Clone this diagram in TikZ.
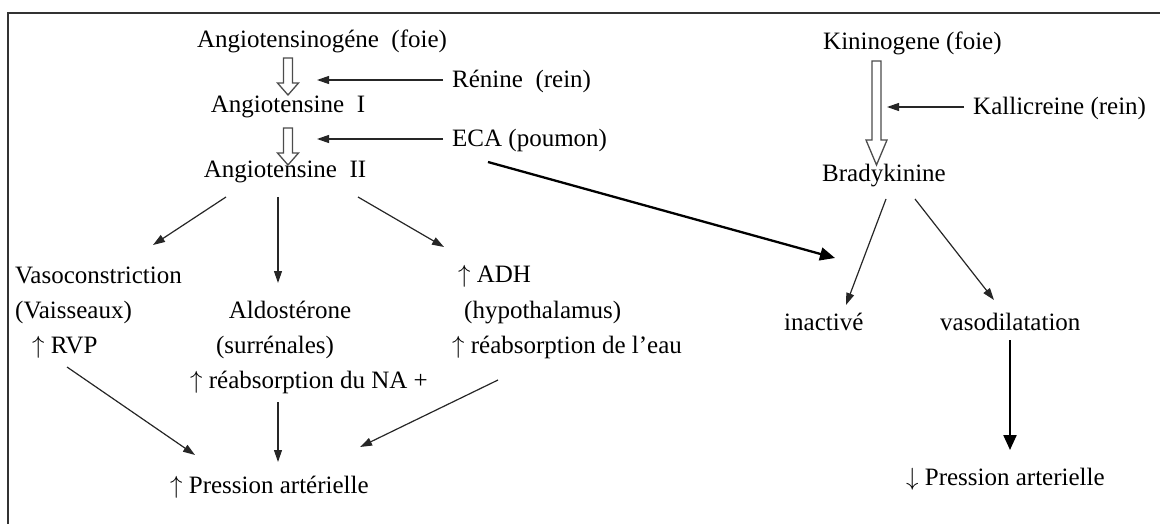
\documentclass[tikz,border=0pt]{standalone}
\usepackage{fontspec}
\setmainfont{Liberation Serif}
\usetikzlibrary{arrows.meta}
\newcommand{\upar}{\(\uparrow\)}
\newcommand{\dnar}{\(\downarrow\)}
\begin{document}
\begin{tikzpicture}[x=1pt,y=-1pt,
  every node/.style={inner sep=0pt, font=\fontsize{25}{29}\selectfont},
  ctr/.style={anchor=base},
  lft/.style={anchor=base west},
  tarr/.style={-{Triangle[length=12pt,width=8pt]}, line width=1.2pt, draw=black!85},
  barr/.style={-{Triangle[length=15pt,width=13pt]}, line width=2.3pt},
  hollow/.style={draw=black!70, line width=1.3pt, fill=white, line join=miter}]
\useasboundingbox (0,0) rectangle (1160,524);
\draw[line width=2pt, black!80] (8,524) -- (8,13) -- (1160,13);

% renin-angiotensin
\node[ctr] (ang0) at (322,48) {Angiotensinogéne\ \ (foie)};
\node[lft] (ren) at (452,88) {Rénine\ \ (rein)};
\node[ctr] (ang1) at (288,113) {Angiotensine\ \ I};
\node[lft] (eca) at (452,147) {ECA (poumon)};
\node[ctr] (ang2) at (285,178) {Angiotensine\ \ II};

\node[lft] (vaso) at (15,283) {Vasoconstriction};
\node[lft] (vais) at (15,318) {(Vaisseaux)};
\node[lft] (rvp) at (32,353) {\upar\ RVP};
\node[ctr] (ald) at (290,318) {Aldostérone};
\node[ctr] (sur) at (275,353) {(surrénales)};
\node[lft] (na) at (190,388) {\upar\ réabsorption du NA +};
\node[lft] (adh) at (458,282) {\upar\ ADH};
\node[lft] (hyp) at (464,318) {(hypothalamus)};
\node[lft] (eau) at (452,353) {\upar\ réabsorption de l’eau};
\node[lft] (pa) at (170,493) {\upar\ Pression artérielle};

% kinin
\node[lft] (kin) at (823,50) {Kininogene (foie)};
\node[lft] (kal) at (973,115) {Kallicreine (rein)};
\node[ctr] (bk) at (884,182) {Bradykinine};
\node[lft] (inact) at (784,330) {inactivé};
\node[lft] (vd) at (940,330) {vasodilatation};
\node[lft] (pa2) at (906,485) {\dnar\ Pression arterielle};

% hollow arrows
\coordinate (oa1) at ([shift={(-34,10)}]ang0.base);
\coordinate (oa2) at ([shift={(0,15)}]ang1.base);
\coordinate (oa3) at ([shift={(53.5,11)}]kin.base west);
\draw[hollow] (oa1) ++(-4.5,0) -- ++(0,25) -- ++(-6,0) -- ++(10.5,12) -- ++(10.5,-12) -- ++(-6,0) -- ++(0,-25) -- cycle;
\draw[hollow] (oa2) ++(-4.5,0) -- ++(0,25) -- ++(-6,0) -- ++(10.5,12) -- ++(10.5,-12) -- ++(-6,0) -- ++(0,-25) -- cycle;
\draw[hollow] (oa3) ++(-4.5,0) -- ++(0,79) -- ++(-6,0) -- ++(10.5,25) -- ++(10.5,-25) -- ++(-6,0) -- ++(0,-79) -- cycle;

% enzyme arrows
\draw[tarr] ([shift={(-9,-8)}]ren.base west) -- ([shift={(29,-33)}]ang1.base);
\draw[tarr] ([shift={(-9,-8)}]eca.base west) -- ([shift={(32,-39)}]ang2.base);
\draw[tarr] ([shift={(-9,-8)}]kal.base west) -- ([shift={(3,-75)}]bk.base);
\draw[barr] ([shift={(36,15)}]eca.base west) -- ([shift={(51,-72)}]inact.base west);

% angiotensin II effects
\draw[tarr] ([shift={(-59,19)}]ang2.base) -- ([shift={(138,-38)}]vaso.base west);
\draw[tarr] ([shift={(-7,19)}]ang2.base) -- ([shift={(-12,-35)}]ald.base);
\draw[tarr] ([shift={(73,19)}]ang2.base) -- ([shift={(-14,-35)}]adh.base west);
\draw[tarr] ([shift={(35,14)}]rvp.base west) -- ([shift={(25,-38)}]pa.base west);
\draw[tarr] ([shift={(88,14)}]na.base west) -- ([shift={(108,-31)}]pa.base west);
\draw[tarr] ([shift={(46,27)}]eau.base west) -- ([shift={(190,-46)}]pa.base west);

% bradykinin
\draw[tarr] ([shift={(2,17)}]bk.base) -- ([shift={(62,-25)}]inact.base west);
\draw[tarr] ([shift={(31,17)}]bk.base) -- ([shift={(54,-30)}]vd.base west);
\draw[barr] ([shift={(70,10)}]vd.base west) -- ([shift={(104,-35)}]pa2.base west);
\end{tikzpicture}
\end{document}
